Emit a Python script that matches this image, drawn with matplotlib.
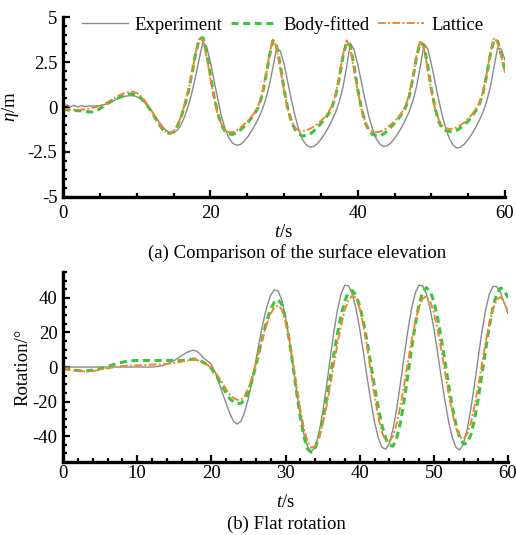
import numpy as np
import matplotlib
matplotlib.use('Agg')
import matplotlib.pyplot as plt
from matplotlib.ticker import MultipleLocator

plt.rcParams['font.family'] = ['Liberation Serif', 'DejaVu Serif']
plt.rcParams['mathtext.fontset'] = 'custom'
plt.rcParams['mathtext.rm'] = 'Liberation Serif'
plt.rcParams['mathtext.it'] = 'Liberation Serif:italic'
plt.rcParams['axes.unicode_minus'] = False

# sample times (s), every 0.5 s
t = np.linspace(0, 60, 121)

# (a) surface elevation, m
eta_exp = [0.05, 0.12, 0.0, 0.1, 0.0, 0.08, 0.02, 0.06, 0.05, 0.06,
           0.08, 0.12, 0.18, 0.28, 0.38, 0.47, 0.55, 0.6, 0.63, 0.63,
           0.58, 0.45, 0.28, 0.05, -0.2, -0.5, -0.8, -1.08, -1.3, -1.42,
           -1.42, -1.3, -1.0, -0.55, 0.05, 0.8, 1.7, 2.7, 3.6, 3.35,
           2.5, 1.5, 0.45, -0.5, -1.2, -1.7, -2.0, -2.12, -2.1, -1.95,
           -1.7, -1.4, -1.05, -0.65, -0.2, 0.4, 1.2, 2.2, 3.3, 3.1,
           2.4, 1.4, 0.4, -0.5, -1.25, -1.8, -2.1, -2.23, -2.2, -2.05,
           -1.8, -1.5, -1.15, -0.75, -0.3, 0.3, 1.1, 2.2, 3.55, 3.2,
           2.4, 1.4, 0.4, -0.5, -1.2, -1.75, -2.05, -2.2, -2.15, -2.0,
           -1.75, -1.45, -1.1, -0.7, -0.25, 0.35, 1.15, 2.25, 3.5, 3.25,
           2.4, 1.4, 0.4, -0.5, -1.25, -1.8, -2.15, -2.28, -2.22, -2.05,
           -1.8, -1.5, -1.15, -0.75, -0.3, 0.3, 1.1, 2.2, 3.3, 3.2,
           2.6]
eta_body = [-0.12, -0.15, -0.18, -0.2, -0.2, -0.22, -0.25, -0.27, -0.27, -0.22,
            -0.1, 0.05, 0.18, 0.3, 0.4, 0.5, 0.6, 0.68, 0.72, 0.72,
            0.67, 0.53, 0.32, 0.05, -0.25, -0.6, -0.95, -1.22, -1.4, -1.47,
            -1.38, -1.08, -0.6, 0.05, 0.85, 1.85, 2.95, 3.8, 3.85, 3.0,
            1.8, 0.6, -0.35, -1.0, -1.35, -1.5, -1.52, -1.45, -1.3, -1.12,
            -0.9, -0.65, -0.38, -0.02, 0.6, 1.6, 2.8, 3.7, 3.4, 2.3,
            1.0, -0.05, -0.8, -1.25, -1.5, -1.6, -1.6, -1.52, -1.35, -1.15,
            -0.92, -0.68, -0.4, -0.02, 0.6, 1.6, 2.8, 3.62, 3.4, 2.3,
            1.0, -0.05, -0.85, -1.3, -1.52, -1.6, -1.6, -1.5, -1.33, -1.12,
            -0.9, -0.66, -0.38, -0.02, 0.6, 1.6, 2.8, 3.6, 3.4, 2.3,
            1.0, -0.05, -0.8, -1.2, -1.32, -1.36, -1.35, -1.28, -1.15, -0.98,
            -0.78, -0.52, -0.22, 0.15, 0.75, 1.75, 2.9, 3.75, 3.65, 2.9,
            2.0]
eta_lat = [-0.1, -0.12, -0.15, -0.15, -0.15, -0.15, -0.13, -0.1, -0.05, 0.0,
           0.06, 0.15, 0.25, 0.38, 0.5, 0.62, 0.72, 0.8, 0.85, 0.85,
           0.78, 0.62, 0.4, 0.12, -0.2, -0.55, -0.9, -1.2, -1.38, -1.45,
           -1.35, -1.05, -0.55, 0.1, 0.9, 1.9, 3.0, 3.8, 3.7, 2.8,
           1.6, 0.5, -0.4, -0.95, -1.28, -1.4, -1.4, -1.32, -1.18, -1.0,
           -0.8, -0.58, -0.32, 0.05, 0.7, 1.7, 2.9, 3.75, 3.3, 2.1,
           0.9, -0.1, -0.75, -1.15, -1.3, -1.33, -1.3, -1.22, -1.1, -0.95,
           -0.78, -0.57, -0.32, 0.05, 0.7, 1.7, 2.9, 3.7, 3.3, 2.1,
           0.9, -0.1, -0.8, -1.2, -1.35, -1.4, -1.38, -1.3, -1.15, -0.98,
           -0.8, -0.57, -0.3, 0.05, 0.7, 1.7, 2.9, 3.7, 3.3, 2.1,
           0.9, -0.1, -0.7, -1.05, -1.18, -1.22, -1.2, -1.12, -1.0, -0.85,
           -0.65, -0.42, -0.15, 0.2, 0.8, 1.8, 3.0, 3.85, 3.6, 2.8,
           1.9]

# (b) flat rotation, degrees
rot_exp = [0, 0, 0, 0, 0, 0, 0, 0, 0, 0,
           0, 0, 0, 0, 0, 0, 0, 0, 0, 0,
           0, 0, 0, 0, 0, 0.2, 0.5, 1.0, 1.7, 2.7,
           3.8, 5.2, 6.6, 8.0, 9.0, 9.7, 9.3, 7.5, 5.0, 3.5,
           1.5, -3.0, -9.0, -15.0, -21.0, -27.0, -31.5, -33.0, -31.3, -26.0,
           -18.1, -7.9, 3.7, 15.4, 26.2, 35.2, 41.6, 44.7, 44.1, 38.7,
           29.0, 16.0, 1.1, -14.2, -28.1, -39.3, -46.5, -49.0, -46.3, -38.6,
           -26.6, -11.8, 4.2, 19.8, 33.0, 42.6, 47.4, 47.0, 42.3, 33.8,
           22.3, 8.6, -5.8, -19.6, -31.7, -40.9, -46.4, -47.7, -44.2, -35.9,
           -23.9, -9.3, 6.3, 21.1, 33.8, 42.9, 47.4, 47.0, 42.3, 33.8,
           22.3, 8.6, -5.8, -19.6, -31.7, -41.0, -46.6, -48.0, -44.3, -36.0,
           -24.0, -9.5, 6.0, 20.8, 33.4, 42.4, 46.8, 46.5, 43.0, 37.0,
           31.0]
rot_body = [-1.0, -1.2, -1.5, -1.8, -2.0, -2.2, -2.2, -2.1, -1.8, -1.4,
            -0.9, -0.3, 0.3, 1.0, 1.7, 2.3, 2.8, 3.2, 3.5, 3.7,
            3.8, 3.8, 3.8, 3.8, 3.8, 3.8, 3.8, 3.8, 3.8, 3.8,
            3.8, 3.8, 3.8, 4.0, 4.3, 4.6, 4.6, 3.8, 2.5, 1.2,
            -0.8, -4.0, -7.5, -11.5, -15.0, -18.3, -20.3, -21.2, -21.0, -19.0,
            -14.4, -7.6, 0.8, 9.9, 19.0, 27.1, 33.5, 37.6, 39.0, 36.2,
            28.2, 15.9, 1.0, -14.7, -29.1, -40.6, -47.7, -49.4, -46.8, -40.5,
            -31.2, -19.5, -6.5, 6.8, 19.3, 30.2, 38.3, 43.2, 44.3, 41.7,
            35.5, 26.2, 14.7, 1.8, -11.2, -23.4, -33.7, -41.2, -45.3, -45.8,
            -41.0, -32.0, -19.4, -4.6, 10.7, 24.7, 36.1, 43.5, 46.0, 44.0,
            37.9, 28.6, 16.7, 3.2, -10.4, -23.1, -33.6, -41.0, -44.6, -44.2,
            -39.1, -30.1, -18.0, -3.9, 10.5, 24.0, 35.1, 42.6, 45.8, 44.5,
            40.0]
rot_lat = [-1.0, -1.3, -1.6, -2.0, -2.2, -2.4, -2.5, -2.5, -2.3, -2.0,
           -1.6, -1.2, -0.8, -0.4, 0.0, 0.3, 0.5, 0.7, 0.8, 0.9,
           1.0, 1.1, 1.2, 1.3, 1.4, 1.5, 1.5, 1.6, 1.8, 2.0,
           2.3, 2.7, 3.1, 3.6, 3.9, 4.1, 4.1, 3.5, 2.5, 1.2,
           -0.5, -3.0, -6.0, -9.5, -13.0, -16.0, -18.0, -19.0, -18.9, -16.6,
           -12.1, -5.8, 1.8, 10.0, 18.1, 25.2, 30.9, 34.5, 35.7, 33.3,
           26.4, 15.9, 2.8, -11.2, -24.6, -35.8, -43.5, -46.8, -45.8, -41.2,
           -33.5, -23.3, -11.5, 1.1, 13.4, 24.3, 33.1, 38.9, 41.4, 40.0,
           34.0, 24.2, 11.6, -2.5, -16.3, -28.5, -37.7, -42.7, -43.3, -39.8,
           -32.6, -22.5, -10.4, 2.6, 15.2, 26.2, 34.7, 39.7, 41.0, 38.1,
           31.5, 21.8, 10.0, -3.0, -15.6, -26.7, -35.2, -40.4, -41.6, -38.8,
           -32.3, -22.6, -10.8, 2.0, 14.5, 25.6, 34.1, 39.2, 40.5, 37.5,
           32.0]

series_names = ['Experiment', 'Body-fitted', 'Lattice']
xticks_a = [0, 20, 40, 60]
yticks_a = [-5, -2.5, 0, 2.5, 5]
ytick_labels_a = ['-5', '-2.5', '0', '2.5', '5']
xticks_b = [0, 10, 20, 30, 40, 50, 60]
yticks_b = [-40, -20, 0, 20, 40]

c_exp = '#8a8a8a'
c_body = '#3cc43c'
c_lat = '#f0862e'
fs = 13.5

fig = plt.figure(figsize=(5.16, 5.35), dpi=100)
ax1 = fig.add_axes([0.1221, 0.6318, 0.8566, 0.3364])
ax2 = fig.add_axes([0.1221, 0.1364, 0.8624, 0.3551])


def draw(ax, y_exp, y_body, y_lat):
    ax.plot(t, y_exp, color=c_exp, lw=1.0, label=series_names[0])
    ax.plot(t, y_body, color=c_body, lw=2.2, dashes=(2.3, 1.5), label=series_names[1])
    ax.plot(t, y_lat, color=c_lat, lw=1.4, dashes=(4, 1.2, 1, 1.2), label=series_names[2])
    for s in ['top', 'right']:
        ax.spines[s].set_visible(False)
    for s in ['left', 'bottom']:
        ax.spines[s].set_linewidth(2.4)
    ax.tick_params(which='both', direction='in', labelsize=fs, width=1.6)
    ax.tick_params(which='major', length=5, pad=4)
    ax.tick_params(which='minor', length=3)
    ax.set_xlim(0, 60)


draw(ax1, eta_exp, eta_body, eta_lat)
ax1.set_ylim(-5, 5)
ax1.set_xticks(xticks_a)
ax1.set_yticks(yticks_a)
ax1.set_yticklabels(ytick_labels_a)
ax1.xaxis.set_minor_locator(MultipleLocator(5))
ax1.yaxis.set_minor_locator(MultipleLocator(0.5))
ax1.tick_params(axis='x', which='major', pad=6)
ax1.set_xlabel(r'$t$/s', fontsize=fs, labelpad=1)
ax1.set_ylabel(r'$\eta$/m', fontsize=fs, labelpad=5)
ax1.legend(loc='center', bbox_to_anchor=(0.497, 0.955), ncol=3, frameon=False,
           fontsize=fs, handlelength=2.45, handletextpad=0.37,
           columnspacing=0.45, borderaxespad=0, borderpad=0)

draw(ax2, rot_exp, rot_body, rot_lat)
ax2.set_ylim(-55, 55)
ax2.set_xticks(xticks_b)
ax2.set_yticks(yticks_b)
ax2.xaxis.set_minor_locator(MultipleLocator(2))
ax2.yaxis.set_minor_locator(MultipleLocator(5))
ax2.tick_params(axis='x', which='major', pad=2)
ax2.set_xlabel(r'$t$/s', fontsize=fs, labelpad=9)
ax2.set_ylabel('Rotation/°', fontsize=fs, labelpad=1)

fig.text(0.575, 1 - 253 / 535, '(a) Comparison of the surface elevation',
         ha='center', va='center', fontsize=fs)
fig.text(0.556, 1 - 524 / 535, '(b) Flat rotation',
         ha='center', va='center', fontsize=fs)

fig.savefig('out.png', dpi=100)
